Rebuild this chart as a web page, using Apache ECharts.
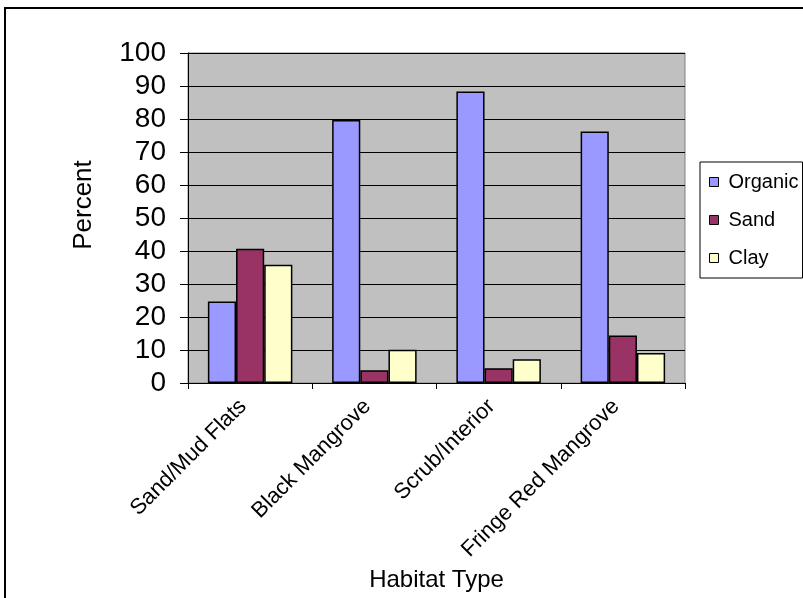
<!DOCTYPE html>
<html>
<head>
<meta charset="utf-8">
<script src="https://cdn.jsdelivr.net/npm/echarts@6/dist/echarts.min.js"></script>
<style>
  html, body { margin: 0; padding: 0; background: #fff; }
  #chart { width: 803px; height: 598px; }
</style>
</head>
<body>
<div id="chart"></div>
<script>
// Soil composition by habitat type (percent)
const habitats = ['Sand/Mud Flats', 'Black Mangrove', 'Scrub/Interior', 'Fringe Red Mangrove'];
const organic = [24.7, 79.7, 88.3, 76.2];
const sand = [40.7, 3.9, 4.5, 14.4];
const clay = [35.8, 10.1, 7.2, 9.1];
const yTicks = [0, 10, 20, 30, 40, 50, 60, 70, 80, 90, 100];

const font = 'Liberation Sans, Arial, sans-serif';
const chart = echarts.init(document.getElementById('chart'));

const barStyle = (color) => ({ color: color, borderColor: '#000', borderWidth: 1.5 });

chart.setOption({
  animation: false,
  backgroundColor: '#fff',
  graphic: [
    {
      // outer chart frame
      type: 'rect',
      shape: { x: 5, y: 8, width: 900, height: 700 },
      style: { fill: 'none', stroke: '#000', lineWidth: 2 },
      z: 100
    },
    {
      // value axis title
      type: 'text',
      x: 84, y: 205,
      rotation: Math.PI / 2,
      style: {
        text: 'Percent', fontFamily: font, fontSize: 26, fill: '#000',
        align: 'center', verticalAlign: 'middle'
      }
    }
  ],
  legend: {
    orient: 'vertical',
    left: 700,
    top: 162,
    padding: [10, 4, 10, 9],
    itemGap: 18,
    itemWidth: 9,
    itemHeight: 9,
    borderColor: '#000',
    borderWidth: 1,
    icon: 'rect',
    itemStyle: { borderColor: '#000', borderWidth: 1 },
    textStyle: { fontFamily: font, fontSize: 20, color: '#000', padding: [0, 0, 0, 5] },
    data: ['Organic', 'Sand', 'Clay']
  },
  grid: {
    left: 188, top: 53, right: 118, bottom: 215,
    show: true, backgroundColor: '#C0C0C0', borderColor: '#808080', borderWidth: 1
  },
  xAxis: {
    type: 'category',
    data: habitats,
    name: 'Habitat Type',
    nameLocation: 'middle',
    nameGap: 183,
    nameTextStyle: { fontFamily: font, fontSize: 24, color: '#000' },
    axisLine: { lineStyle: { color: '#000', width: 1 } },
    axisTick: { show: true, alignWithLabel: false, length: 6, lineStyle: { color: '#000' } },
    axisLabel: {
      rotate: 45, fontFamily: font, fontSize: 22, color: '#000', margin: 13, interval: 0,
      padding: [0, 10, 0, 0]
    }
  },
  yAxis: {
    type: 'value',
    min: 0, max: 100, interval: 10,
    axisLine: { show: true, lineStyle: { color: '#000', width: 1 } },
    axisTick: { show: true, length: 8, lineStyle: { color: '#000' } },
    axisLabel: {
      fontFamily: font, fontSize: 28, color: '#000', margin: 22,
      formatter: (v) => (yTicks.includes(v) ? String(v) : '')
    },
    splitLine: { show: true, lineStyle: { color: '#000', width: 1 } }
  },
  series: [
    { name: 'Organic', type: 'bar', data: organic, itemStyle: barStyle('#9999FF'), barGap: '0%', barCategoryGap: '32%' },
    { name: 'Sand', type: 'bar', data: sand, itemStyle: barStyle('#993366') },
    { name: 'Clay', type: 'bar', data: clay, itemStyle: barStyle('#FFFFCC') }
  ]
});
</script>
</body>
</html>
